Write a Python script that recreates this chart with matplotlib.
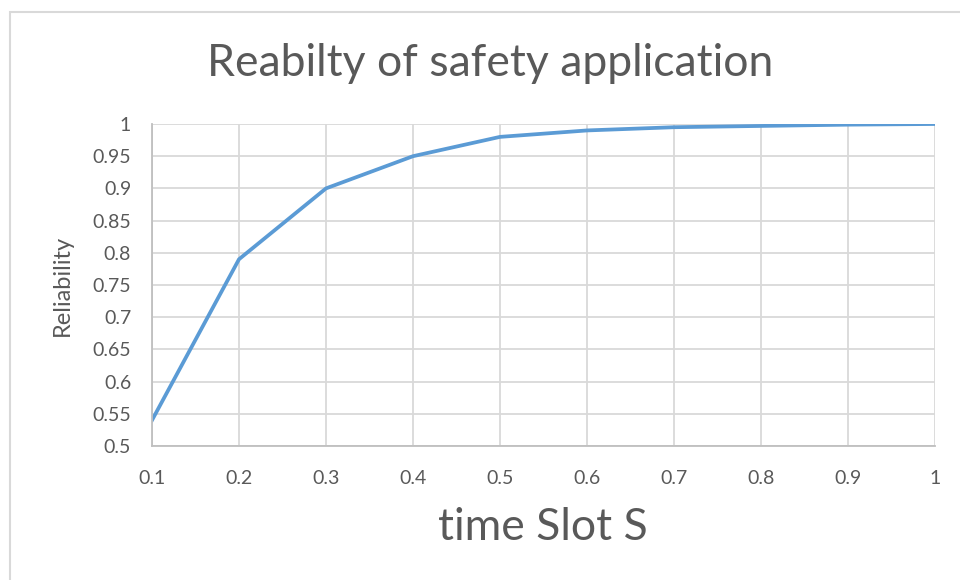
import matplotlib.pyplot as plt
from matplotlib.patches import Rectangle

# time slot vs. reliability of the safety application
time_slot = [0.1, 0.2, 0.3, 0.4, 0.5, 0.6, 0.7, 0.8, 0.9, 1.0]
reliability = [0.54, 0.79, 0.90, 0.95, 0.98, 0.99, 0.995, 0.997, 0.999, 1.0]

y_ticks = [0.5, 0.55, 0.6, 0.65, 0.7, 0.75, 0.8, 0.85, 0.9, 0.95, 1.0]
y_labels = ["0.5", "0.55", "0.6", "0.65", "0.7", "0.75", "0.8", "0.85", "0.9", "0.95", "1"]
x_labels = ["0.1", "0.2", "0.3", "0.4", "0.5", "0.6", "0.7", "0.8", "0.9", "1"]

TEXT = "#595959"
GRID = "#d9d9d9"
LINE = "#5b9bd5"

plt.rcParams["font.family"] = ["Lato", "DejaVu Sans"]

fig = plt.figure(figsize=(9.6, 5.8), dpi=100)
ax = fig.add_axes([152 / 960, 1 - 446 / 580, (935 - 152) / 960, (446 - 124) / 580])

# chart border (right and bottom edges run past the canvas)
fig.patches.append(Rectangle((10 / 960, -0.05), 1.0, 1 - 12 / 580 + 0.05,
                             transform=fig.transFigure, fill=False,
                             edgecolor=GRID, linewidth=1.5))

ax.plot(time_slot, reliability, color=LINE, linewidth=2.7, solid_joinstyle="round")

ax.set_xlim(0.1, 1.0)
ax.set_ylim(0.5, 1.0)
ax.set_xticks(time_slot)
ax.set_xticklabels(x_labels)
ax.set_yticks(y_ticks)
ax.set_yticklabels(y_labels)
ax.tick_params(length=0, labelsize=14, colors=TEXT)
ax.tick_params(axis="x", pad=17)
ax.tick_params(axis="y", pad=15)

ax.grid(True, color=GRID, linewidth=1.3)
ax.set_axisbelow(True)
for side in ["top", "right"]:
    ax.spines[side].set_visible(False)
for side in ["left", "bottom"]:
    ax.spines[side].set_color("#bfbfbf")
    ax.spines[side].set_linewidth(1.3)

fig.text(490 / 960, 1 - 63 / 580, "Reabilty of safety application",
         ha="center", va="center", fontsize=32, color=TEXT)
fig.text(543 / 960, 1 - 527 / 580, "time Slot S",
         ha="center", va="center", fontsize=32, color=TEXT)
fig.text(62 / 960, 1 - 285 / 580, "Reliability", rotation=90,
         ha="center", va="center", fontsize=17, color=TEXT)

fig.savefig("out.png", dpi=100)
